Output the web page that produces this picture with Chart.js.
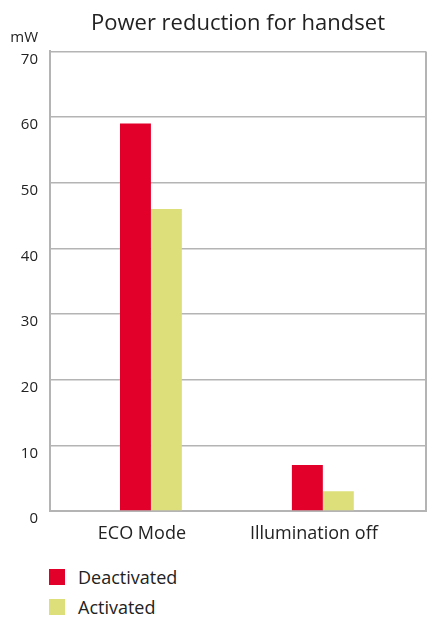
<!DOCTYPE html>
<html>
<head>
<meta charset="utf-8">
<script src="https://cdn.jsdelivr.net/npm/chart.js@4.4.1/dist/chart.umd.min.js"></script>
<style>
  html, body { margin: 0; padding: 0; background: #fff; }
  #wrap { position: relative; width: 430px; height: 630px; font-family: "Open Sans", sans-serif; }
  #box { position: absolute; left: 0; top: 0; width: 430px; height: 555px; }
  #legend { position: absolute; left: 49px; top: 562px; margin: 0; padding: 0; list-style: none; }
  #legend li { display: flex; align-items: center; height: 30px; font-size: 18px; color: #222; }
  #legend span.sw { display: inline-block; width: 16px; height: 16px; margin-right: 13px; }
</style>
</head>
<body>
<div id="wrap">
  <div id="box"><canvas id="c"></canvas></div>
  <ul id="legend"></ul>
</div>
<script>
const titleText = "Power reduction for handset";
const unitLabel = "mW";
const categories = ["ECO Mode", "Illumination off"];
const seriesNames = ["Deactivated", "Activated"];
const deactivated = [59, 7];
const activated = [46, 3];
const yTicks = [0, 10, 20, 30, 40, 50, 60, 70];
const colors = ["#e2002a", "#dde07a"];

const gridColor = "#b4b4b4";
const textColor = "#222";

const framePlugin = {
  id: "frame",
  afterDraw(chart) {
    const { ctx, chartArea } = chart;
    ctx.save();
    ctx.strokeStyle = gridColor;
    ctx.lineWidth = 2;
    ctx.beginPath();
    ctx.moveTo(chartArea.right, chartArea.top);
    ctx.lineTo(chartArea.right, chartArea.bottom);
    ctx.stroke();
    const y = chart.scales.y;
    ctx.fillStyle = textColor;
    ctx.font = "15px 'Open Sans', sans-serif";
    ctx.textAlign = "right";
    ctx.textBaseline = "middle";
    ctx.fillText(unitLabel, y.right - 12, chartArea.top - 14);
    ctx.restore();
  }
};

const chart = new Chart(document.getElementById("c"), {
  type: "bar",
  data: {
    datasets: [
      { label: seriesNames[0], data: deactivated.map((v, i) => ({ x: i, y: v })), backgroundColor: colors[0] },
      { label: seriesNames[1], data: activated.map((v, i) => ({ x: i, y: v })), backgroundColor: colors[1] }
    ]
  },
  options: {
    responsive: true,
    maintainAspectRatio: false,
    animation: false,
    layout: { padding: { left: 0, right: 4, top: 0, bottom: 0 } },
    datasets: { bar: { categoryPercentage: 0.36, barPercentage: 1.0, borderWidth: 0 } },
    plugins: {
      legend: { display: false },
      tooltip: { enabled: false },
      title: {
        display: true,
        text: titleText,
        fullSize: false,
        color: textColor,
        font: { family: "'Open Sans', sans-serif", size: 22, weight: "normal" },
        padding: { top: 11, bottom: 14 }
      }
    },
    scales: {
      x: {
        type: "linear",
        offset: false,
        min: -0.587,
        max: 1.6,
        afterBuildTicks: s => { s.ticks = categories.map((_, i) => ({ value: i })); },
        afterFit: s => { s.height = 44; },
        grid: { display: false, offset: false },
        border: { color: gridColor, width: 2 },
        ticks: {
          color: textColor,
          font: { family: "'Open Sans', sans-serif", size: 18 },
          padding: 4,
          labelOffset: -9,
          callback: v => categories[v]
        }
      },
      y: {
        min: 0,
        max: 70,
        afterBuildTicks: s => { s.ticks = yTicks.map(v => ({ value: v })); },
        afterFit: s => { s.width = 50; },
        grid: { color: gridColor, lineWidth: 1.5, drawTicks: false },
        border: { color: gridColor, width: 2 },
        ticks: {
          color: textColor,
          font: { family: "'Open Sans', sans-serif", size: 15 },
          padding: 12,
          labelOffset: 8
        }
      }
    }
  },
  plugins: [framePlugin]
});

const legend = document.getElementById("legend");
chart.data.datasets.forEach(ds => {
  const li = document.createElement("li");
  const sw = document.createElement("span");
  sw.className = "sw";
  sw.style.background = ds.backgroundColor;
  li.appendChild(sw);
  li.appendChild(document.createTextNode(ds.label));
  legend.appendChild(li);
});
</script>
</body>
</html>
